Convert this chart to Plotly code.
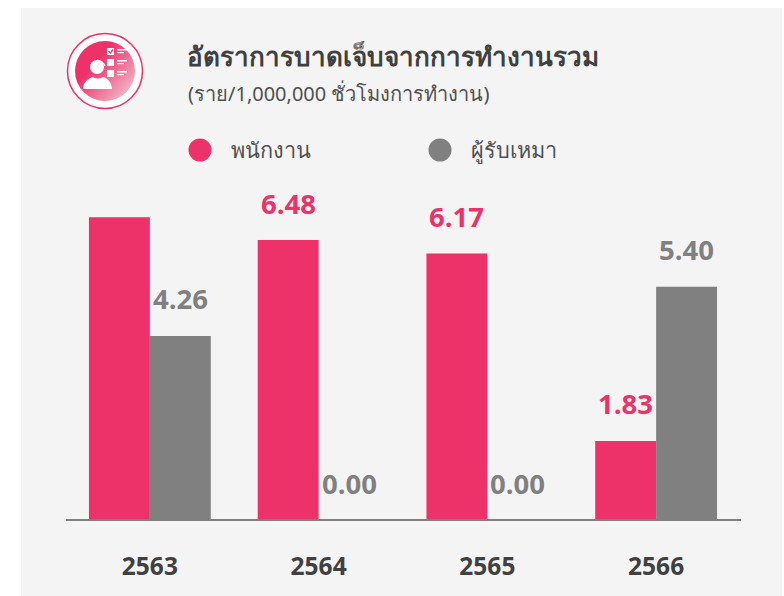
import base64
import plotly.graph_objects as go

years = ["2563", "2564", "2565", "2566"]
employee = [7.01, 6.48, 6.17, 1.83]
contractor = [4.26, 0.00, 0.00, 5.40]
employee_labels = ["", "6.48", "6.17", "1.83"]
contractor_labels = ["4.26", "0.00", "0.00", "5.40"]
series_names = ["พนักงาน", "ผู้รับเหมา"]
title = "อัตราการบาดเจ็บจากการทำงานรวม"
subtitle = "(ราย/1,000,000 ชั่วโมงการทำงาน)"

PINK = "#EC3268"
GREY = "#808080"
W, H = 784, 596
L, R, T, B = 66, 43, 190, 76
PX_PER_UNIT = 43.2
PW, PH = W - L - R, H - T - B

def px(x):
    return (x - L) / PW

def py(y):
    return 1 - (y - T) / PH

icon_svg = """<svg xmlns='http://www.w3.org/2000/svg' width='80' height='80' viewBox='0 0 80 80'>
<defs><linearGradient id='g' x1='0.1' y1='0.2' x2='0.95' y2='0.95'>
<stop offset='0.25' stop-color='#EC3268'/><stop offset='1' stop-color='#F3C6D3'/></linearGradient></defs>
<circle cx='40' cy='40' r='37.5' fill='#fff' stroke='#EC3268' stroke-width='1.5'/>
<circle cx='40' cy='40' r='30' fill='url(#g)'/>
<path d='M18 58 C18 51 24 47 28 46 Q33 49 38 46 C42 47 47 51 47 58 Z' fill='#fff'/>
<circle cx='32' cy='36' r='7' fill='#fff'/>
<path d='M30 31 Q36 31 38 37 M32 29 Q38 30 40 35' fill='none' stroke='#fff' stroke-width='1.2'/>
<g fill='#fff'><rect x='42' y='17' width='7' height='7'/><rect x='42' y='28' width='7' height='7'/><rect x='42' y='39' width='7' height='7'/>
<rect x='52' y='18' width='10' height='1.5'/><rect x='52' y='21' width='7' height='1.2'/>
<rect x='52' y='29' width='10' height='1.5'/><rect x='52' y='32' width='7' height='1.2'/>
<rect x='52' y='40' width='10' height='1.5'/><rect x='52' y='43' width='7' height='1.2'/></g>
<path d='M43.5 20 L45.5 22 L48 18.5' fill='none' stroke='#EC3268' stroke-width='1.3'/>
</svg>"""
icon_uri = "data:image/svg+xml;base64," + base64.b64encode(icon_svg.encode()).decode()

fig = go.Figure()
fig.add_bar(x=years, y=employee, name=series_names[0], marker_color=PINK, marker_line_width=0)
fig.add_bar(x=years, y=contractor, name=series_names[1], marker_color=GREY, marker_line_width=0)

annotations = []
for i, (v, t) in enumerate(zip(employee, employee_labels)):
    if t:
        annotations.append(dict(x=i, y=v, text=t, xref="x", yref="y", showarrow=False, xshift=-30.5, yshift=37,
                                font=dict(family="Open Sans", size=27.5, color=PINK, weight=700)))
for i, (v, t) in enumerate(zip(contractor, contractor_labels)):
    annotations.append(dict(x=i, y=v, text=t, xref="x", yref="y", showarrow=False, xshift=30.5, yshift=37,
                            font=dict(family="Open Sans", size=27.5, color=GREY, weight=700)))

def label(x, y, text, size, color, weight=400, shift=0, family="Noto Sans"):
    return dict(x=px(x), y=py(y), xref="paper", yref="paper", text=text, showarrow=False, xanchor="left", yanchor="middle",
                xshift=shift, font=dict(family=family, size=size, color=color, weight=weight))

annotations += [
    label(188, 56, title, 26, "#404040", 700, -3),
    label(188, 94, subtitle, 20, "#505050", 400, -2),
    label(230, 149, series_names[0], 21.7, "#505050", 400, -1),
    label(470, 149, series_names[1], 21.7, "#505050", 400, -1),
]

def rect(x0, y0, x1, y1, color):
    return dict(type="rect", xref="paper", yref="paper", x0=px(x0), x1=px(x1), y0=py(y0), y1=py(y1),
                fillcolor=color, line_width=0, layer="below")

def dot(cx, cy, r, color):
    return dict(type="circle", xref="paper", yref="paper", x0=px(cx - r), x1=px(cx + r), y0=py(cy + r), y1=py(cy - r),
                fillcolor=color, line_width=0, layer="above")

fig.update_layout(
    width=W, height=H, autosize=False,
    margin=dict(l=L, r=R, t=T, b=B),
    paper_bgcolor="#FFFFFF", plot_bgcolor="rgba(0,0,0,0)",
    barmode="group", bargap=0.278, bargroupgap=0, showlegend=False,
    annotations=annotations,
    shapes=[rect(21, 8, 782, 596, "#F4F4F4"), dot(200, 150, 11.5, PINK), dot(440, 150, 11.5, GREY)],
    images=[dict(source=icon_uri, xref="paper", yref="paper", x=px(65), y=py(31), sizex=80 / PW, sizey=80 / PH,
                 xanchor="left", yanchor="top", sizing="stretch", layer="above")],
    xaxis=dict(type="category", categoryorder="array", categoryarray=years, range=[-0.497, 3.503],
               showgrid=False, zeroline=False, showline=False, ticks="", ticklabelstandoff=29,
               tickfont=dict(family="Open Sans", size=24.5, color="#404040", weight=700)),
    yaxis=dict(range=[0, PH / PX_PER_UNIT], visible=False, showgrid=False, zeroline=False),
)
fig.add_shape(type="line", xref="paper", yref="paper", x0=0, x1=1, y0=0, y1=0, line=dict(color="#808080", width=2), layer="above")
fig.write_html("out.html", config=dict(displayModeBar=False), post_script="document.body.style.margin='0';")
